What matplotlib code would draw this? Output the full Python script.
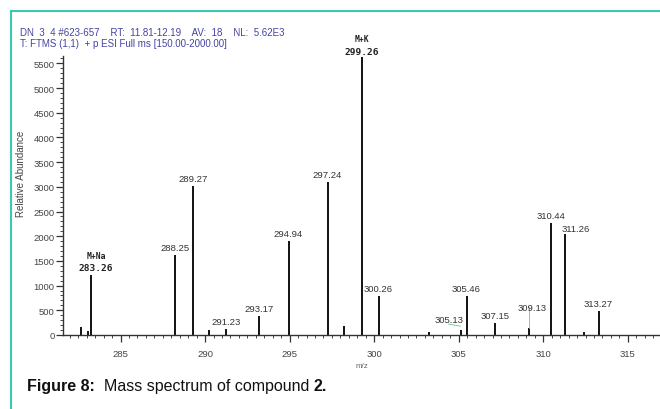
import matplotlib
matplotlib.use("Agg")
import matplotlib.pyplot as plt
from matplotlib.ticker import MultipleLocator
from matplotlib.lines import Line2D

# ---- data ----
peak_mz = [282.66, 283.06, 283.26, 288.25, 289.27, 290.24, 291.23, 293.17, 294.94,
           297.24, 298.20, 299.26, 300.26, 303.27, 305.13, 305.46, 307.15, 309.13,
           310.44, 311.26, 312.40, 313.27]
peak_int = [170, 90, 1210, 1620, 3020, 100, 120, 390, 1910,
            3100, 190, 5620, 795, 55, 110, 785, 237, 140,
            2260, 2045, 60, 492]
labels = {288.25: "288.25", 289.27: "289.27", 291.23: "291.23", 293.17: "293.17",
          294.94: "294.94", 297.24: "297.24", 300.26: "300.26", 305.46: "305.46",
          307.15: "307.15", 310.44: "310.44", 313.27: "313.27"}
y_ticks = [0, 500, 1000, 1500, 2000, 2500, 3000, 3500, 4000, 4500, 5000, 5500]
x_ticks = [285, 290, 295, 300, 305, 310, 315]

fig = plt.figure(figsize=(6.6, 4.1), dpi=100)
W, H = 660, 410

# teal frame
teal = "#3cc8b0"
fig.add_artist(Line2D([11/W, 11/W], [0, 1 - 12/H], color=teal, lw=1.5, transform=fig.transFigure))
fig.add_artist(Line2D([11/W, 1], [1 - 12/H, 1 - 12/H], color=teal, lw=1.5, transform=fig.transFigure))

ax = fig.add_axes([63/W, 1 - 336/H, 1 - 63/W, (336 - 57)/H])
ax.vlines(peak_mz, 0, peak_int, color="#111111", lw=1.4)
ax.set_xlim(281.6, 316.9)
ax.set_ylim(0, 5650)
for s in ["top", "right"]:
    ax.spines[s].set_visible(False)
for s in ["left", "bottom"]:
    ax.spines[s].set_color("#333333")
    ax.spines[s].set_linewidth(1.0)

ax.set_yticks(y_ticks)
ax.set_xticks(x_ticks)
ax.xaxis.set_minor_locator(MultipleLocator(0.5))
ax.yaxis.set_minor_locator(MultipleLocator(100))
ax.tick_params(axis="both", which="major", direction="out", length=5, width=0.9,
               colors="#333333", labelsize=6.8, pad=1)
ax.tick_params(axis="both", which="minor", direction="out", length=2.5, width=0.7, colors="#444444")
for lab in ax.get_xticklabels() + ax.get_yticklabels():
    lab.set_family("Liberation Sans")
    lab.set_color("#444444")
ax.tick_params(axis="x", which="major", pad=5)

ax.set_xlabel("m/z", fontsize=5.8, color="#666666", labelpad=3, family="Liberation Sans")
ax.set_ylabel("Relative Abundance", fontsize=7, color="#444444",
              family="Liberation Sans")
ax.yaxis.set_label_coords(-0.062, 0.58)

lab_kw = dict(fontsize=6.8, color="#333333", ha="center", va="bottom",
              textcoords="offset pixels", family="Liberation Sans")
for mz, it in zip(peak_mz, peak_int):
    if mz in labels:
        ax.annotate(labels[mz], (mz, it), xytext=(0, 3), **lab_kw)

# offset labels
ax.annotate("311.26", (311.26, 2045), xytext=(11, 1), **lab_kw)
ax.annotate("309.13", (309.13, 140), xytext=(4, 16), **lab_kw)
ax.plot([309.13, 309.13], [140, 560], color="#66cc88", lw=0.6)
ax.annotate("305.13", (305.13, 110), xytext=(-12, 6), **lab_kw)
ax.plot([304.4, 305.1], [220, 180], color="#66cc88", lw=0.6)

bold_kw = dict(fontsize=6.8, color="#222222", ha="center", va="bottom",
               textcoords="offset pixels", family="DejaVu Sans Mono", fontweight="bold")
ax.annotate("283.26", (283.26, 1210), xytext=(5, 3), **bold_kw)
ax.annotate("M+Na", (283.26, 1210), xytext=(5, 15), **dict(bold_kw, fontsize=5.8))
ax.annotate("299.26", (299.26, 5620), xytext=(0, 1), **bold_kw)
ax.annotate("M+K", (299.26, 5620), xytext=(0, 14), **dict(bold_kw, fontsize=5.8))

hdr = "#4444a0"
fig.text(20/W, 1 - 33/H, "DN  3  4 #623-657    RT:  11.81-12.19    AV:  18    NL:  5.62E3",
         fontsize=7, color=hdr, va="center", family="Liberation Sans")
fig.text(20/W, 1 - 44/H, "T: FTMS (1,1)  + p ESI Full ms [150.00-2000.00]",
         fontsize=7, color=hdr, va="center", family="Liberation Sans")

# caption
cap_fs = 11.5
t1 = fig.text(27/W, 1 - 387/H, "Figure 8:", fontsize=cap_fs, color="#111111", va="center",
              family="Liberation Sans", fontweight="bold")
fig.canvas.draw()
bb = t1.get_window_extent()
t2 = fig.text((bb.x1 + 9)/W, 1 - 387/H, "Mass spectrum of compound ", fontsize=cap_fs,
              color="#111111", va="center", family="Liberation Sans")
fig.canvas.draw()
bb2 = t2.get_window_extent()
fig.text(bb2.x1/W, 1 - 387/H, "2.", fontsize=cap_fs, color="#111111", va="center",
         family="Liberation Sans", fontweight="bold")

fig.savefig("out.png", dpi=100)
